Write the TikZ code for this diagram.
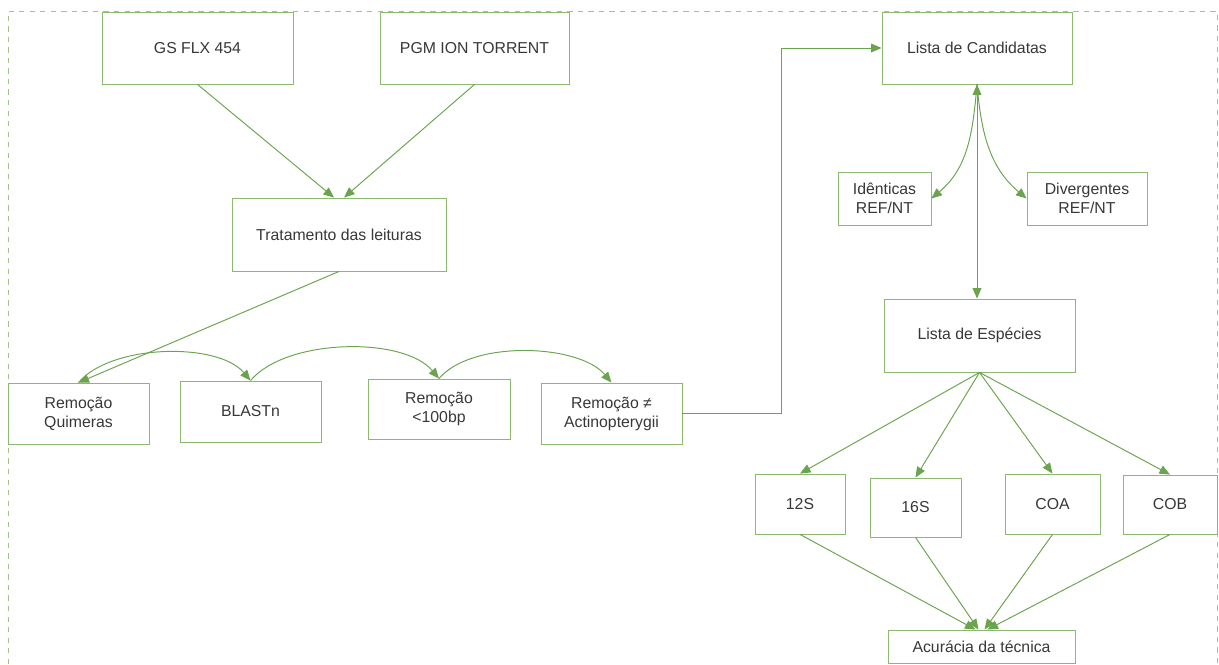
\documentclass[tikz,border=0pt]{standalone}
\usepackage{fontspec}
\setmainfont{Liberation Sans}
\usepackage{tikz}
\usetikzlibrary{arrows.meta}
\definecolor{boxgreen}{RGB}{140,184,112}
\definecolor{linegreen}{RGB}{106,164,78}
\definecolor{framegreen}{RGB}{160,196,140}

\begin{document}
\begin{tikzpicture}[x=0.02cm,y=-0.02cm,
  box/.style={draw=boxgreen,line width=0.5pt,fill=white,align=center,inner sep=1pt,
    text=black!78,font=\fontsize{9}{10.8}\selectfont},
  link/.style={draw=linegreen,line width=0.55pt,-{Triangle[length=6pt,width=5pt]}},
  twolink/.style={link,{Triangle[length=6pt,width=5pt]}-{Triangle[length=6pt,width=5pt]}}]
\useasboundingbox (0,0) rectangle (1219,664);
\draw[framegreen,dashed,line width=0.5pt] (8,664) -- (8,11) -- (1217,11) -- (1217,664);
% sequencing and reads
\node[box,minimum width=3.82cm,minimum height=1.44cm] (gs) at (197.5,48) {GS FLX 454};
\node[box,minimum width=3.78cm,minimum height=1.44cm] (pgm) at (474.5,48) {PGM ION TORRENT};
\node[box,minimum width=4.28cm,minimum height=1.46cm] (trat) at (339,234.5) {Tratamento das leituras};
% filtering steps
\node[box,minimum width=2.82cm,minimum height=1.22cm] (quim) at (78.5,413.5) {Remoção\\Quimeras};
\node[box,minimum width=2.82cm,minimum height=1.22cm] (blast) at (250.5,411.5) {BLASTn};
\node[box,minimum width=2.84cm,minimum height=1.2cm] (rem) at (439,409) {Remoção\\{<}100bp};
\node[box,minimum width=2.82cm,minimum height=1.22cm] (actino) at (611.5,413.5) {Remoção ≠\\Actinopterygii};
% candidates and species
\node[box,minimum width=3.8cm,minimum height=1.44cm] (cand) at (977,48) {Lista de Candidatas};
\node[box,minimum width=1.86cm,minimum height=1.06cm] (iden) at (884.5,198.5) {Idênticas\\REF/NT};
\node[box,minimum width=2.4cm,minimum height=1.06cm] (diverg) at (1087,198.5) {Divergentes\\REF/NT};
\node[box,minimum width=3.82cm,minimum height=1.46cm] (esp) at (979.5,335.5) {Lista de Espécies};
% markers
\node[box,minimum width=1.8cm,minimum height=1.2cm] (m12) at (800,504) {12S};
\node[box,minimum width=1.82cm,minimum height=1.18cm] (m16) at (915.5,507.5) {16S};
\node[box,minimum width=1.9cm,minimum height=1.2cm] (coa) at (1052.5,504) {COA};
\node[box,minimum width=1.88cm,minimum height=1.18cm] (cob) at (1170,504.5) {COB};
\node[box,minimum width=3.74cm,minimum height=0.66cm] (acur) at (981.5,646.5) {Acurácia da técnica};

\draw[link] (gs.south) -- ([xshift=-0.1cm]trat.north);
\draw[link] (pgm.south) -- ([xshift=0.1cm]trat.north);
\draw[link] (trat.south) -- (quim.north);
\draw[link] (quim.north) to[out=50,in=130,looseness=0.75] (blast.north);
\draw[link] (blast.north) to[out=50,in=130,looseness=0.75] (rem.north);
\draw[link] (rem.north) to[out=50,in=130,looseness=0.75] (actino.north);
\draw[link] (actino.east) -- ++(99,0) |- (cand.west);
\draw[twolink] (cand.south) -- (cand.south |- esp.north);
\draw[link] (cand.south) to[out=-95,in=40] (iden.east);
\draw[link] (cand.south) to[out=-85,in=140] (diverg.west);
\draw[link] (esp.south) -- (m12.north);
\draw[link] (esp.south) -- (m16.north);
\draw[link] (esp.south) -- (coa.north);
\draw[link] (esp.south) -- (cob.north);
\draw[link] (m12.south) -- ([xshift=-0.12cm]acur.north);
\draw[link] (m16.south) -- ([xshift=-0.06cm]acur.north);
\draw[link] (coa.south) -- ([xshift=0.06cm]acur.north);
\draw[link] (cob.south) -- ([xshift=0.12cm]acur.north);
\end{tikzpicture}
\end{document}
